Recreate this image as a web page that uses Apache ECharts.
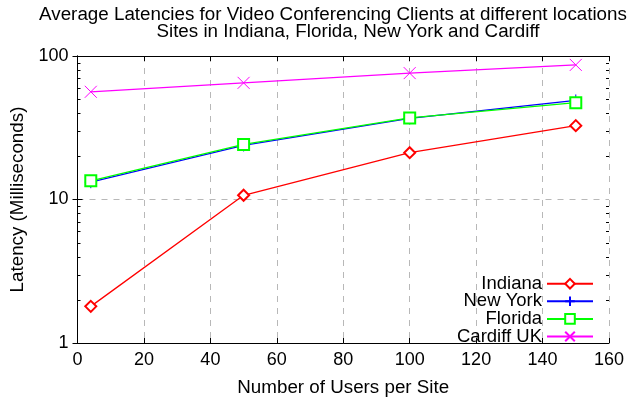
<!DOCTYPE html>
<html>
<head>
<meta charset="utf-8">
<script src="https://cdn.jsdelivr.net/npm/echarts@6/dist/echarts.min.js"></script>
<style>html,body{margin:0;padding:0;background:#fff;}#c{width:639px;height:402px;}</style>
</head>
<body>
<div id="c"></div>
<script>
var titleLines = ['Average Latencies for Video Conferencing Clients at different locations', 'Sites in Indiana, Florida, New York and Cardiff'];
var xLabel = 'Number of Users per Site';
var yLabel = 'Latency (Milliseconds)';
var usersPerSite = [4, 50, 100, 150];
var indiana = [1.8, 10.7, 21.2, 32.7];
var newYork = [13.2, 23.8, 36.7, 49];
var florida = [13.5, 24.2, 37, 47.3];
var cardiff = [56.3, 65, 76, 86.7];
var seriesNames = ['Indiana', 'New York', 'Florida', 'Cardiff UK'];
var xMin = 0, xMax = 160, xStep = 20;
var yMin = 1, yMax = 100;
var yMinorTicks = [2, 3, 4, 5, 6, 7, 8, 9, 20, 30, 40, 50, 60, 70, 80, 90];

var FONT = 'Liberation Sans, Arial, Helvetica, sans-serif';
function pairs(ys) { return usersPerSite.map(function (x, i) { return [x, ys[i]]; }); }

var chart = echarts.init(document.getElementById('c'), null, {renderer: 'canvas'});
var black = '#000';
var gridLine = {show: true, lineStyle: {color: '#b8b8b8', type: [6, 6], width: 1}};
function lineSeries(name, data, color, symbol, size) {
  return {
    name: name, type: 'line', data: pairs(data), xAxisIndex: 0, yAxisIndex: 0,
    symbol: symbol, symbolSize: size,
    lineStyle: {color: color, width: 1.3},
    itemStyle: {color: color, borderColor: color, borderWidth: 1},
    emphasis: {disabled: true}
  };
}
var plusPath = 'path://M5,0L5,10M0,5L10,5';
var xPath = 'path://M0,0L10,10M10,0L0,10';

var option = {
  animation: false,
  backgroundColor: '#fff',
  textStyle: {fontFamily: FONT},
  title: [
    {text: titleLines[0], left: 333, top: 5, padding: 0, textAlign: 'center',
     textStyle: {fontFamily: FONT, fontSize: 18.8, fontWeight: 'normal', color: black}},
    {text: titleLines[1], left: 348, top: 22, padding: 0, textAlign: 'center',
     textStyle: {fontFamily: FONT, fontSize: 18.8, fontWeight: 'normal', color: black}}
  ],
  grid: {left: 77.5, right: 30, top: 56, bottom: 55, containLabel: false},
  legend: {
    data: seriesNames, orient: 'vertical', right: 45, bottom: 56, align: 'right',
    itemWidth: 46, itemHeight: 12, itemGap: -1.4, padding: 0, selectedMode: false,
    textStyle: {fontFamily: FONT, fontSize: 18.5, color: black, lineHeight: 17.4}
  },
  xAxis: [
    {type: 'value', min: xMin, max: xMax, interval: xStep, position: 'bottom',
     axisLine: {lineStyle: {color: black, width: 1}},
     axisTick: {inside: true, length: 5, lineStyle: {color: black}},
     axisLabel: {color: black, fontSize: 18, fontFamily: FONT, margin: 8, showMinLabel: true, showMaxLabel: true},
     splitLine: gridLine,
     name: xLabel, nameLocation: 'middle', nameGap: 35,
     nameTextStyle: {color: black, fontSize: 18.8, fontFamily: FONT}},
    {type: 'value', min: xMin, max: xMax, interval: xStep, position: 'top',
     axisLine: {lineStyle: {color: black, width: 1}},
     axisTick: {inside: true, length: 5, lineStyle: {color: black}},
     axisLabel: {show: false}, splitLine: {show: false}}
  ],
  yAxis: [
    {type: 'log', logBase: 10, min: yMin, max: yMax, position: 'left',
     axisLine: {show: true, lineStyle: {color: black, width: 1}},
     axisTick: {show: true, inside: true, length: 5, lineStyle: {color: black}},
     axisLabel: {color: black, fontSize: 18, fontFamily: FONT, margin: 9},
     splitLine: gridLine,
     name: yLabel, nameLocation: 'middle', nameGap: 50,
     nameTextStyle: {color: black, fontSize: 18.8, fontFamily: FONT}},
    {type: 'log', logBase: 10, min: yMin, max: yMax, position: 'right',
     axisLine: {show: true, lineStyle: {color: black, width: 1}},
     axisTick: {show: true, inside: true, length: 5, lineStyle: {color: black}},
     axisLabel: {show: false}, splitLine: {show: false}}
  ],
  series: [
    {
      name: 'minorTicks', type: 'custom', xAxisIndex: 0, yAxisIndex: 0, silent: true, z: 10,
      data: yMinorTicks.map(function (v) { return [xMin, v]; }),
      renderItem: function (params, api) {
        var p = api.coord([api.value(0), api.value(1)]);
        var cs = params.coordSys;
        var y = Math.round(p[1]) + 0.5;
        return {type: 'group', children: [
          {type: 'line', shape: {x1: cs.x, y1: y, x2: cs.x + 3, y2: y}, style: {stroke: black, lineWidth: 1}},
          {type: 'line', shape: {x1: cs.x + cs.width - 3, y1: y, x2: cs.x + cs.width, y2: y}, style: {stroke: black, lineWidth: 1}}
        ]};
      }
    },
    lineSeries(seriesNames[0], indiana, '#ff0000', 'emptyDiamond', 11),
    lineSeries(seriesNames[1], newYork, '#0000ff', plusPath, 12),
    lineSeries(seriesNames[2], florida, '#00ff00', 'emptyRect', 11),
    lineSeries(seriesNames[3], cardiff, '#ff00ff', xPath, 12)
  ]
};
chart.setOption(option);
</script>
</body>
</html>
